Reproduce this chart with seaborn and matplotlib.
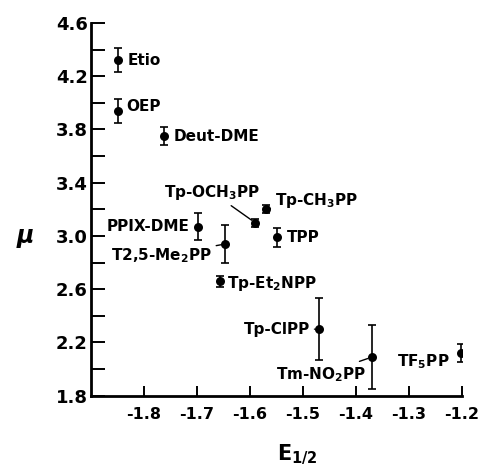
import matplotlib
matplotlib.use("Agg")
import matplotlib.pyplot as plt
import matplotlib.ticker as mticker
import seaborn as sns
import pandas as pd

# ---- data ----
names = ["Etio", "OEP", "Deut-DME", "PPIX-DME", "T2,5-Me$_2$PP", "Tp-Et$_2$NPP",
         "Tp-OCH$_3$PP", "Tp-CH$_3$PP", "TPP", "Tp-ClPP", "Tm-NO$_2$PP", "TF$_5$PP"]
e_half = [-1.848, -1.848, -1.761, -1.698, -1.646, -1.657,
          -1.590, -1.570, -1.549, -1.470, -1.370, -1.202]
mu = [4.32, 3.94, 3.75, 3.07, 2.94, 2.66,
      3.10, 3.20, 2.99, 2.30, 2.09, 2.12]
mu_err = [0.09, 0.09, 0.065, 0.10, 0.14, 0.04,
          0.03, 0.03, 0.07, 0.235, 0.24, 0.065]
x_ticks = [-1.8, -1.7, -1.6, -1.5, -1.4, -1.3, -1.2]
y_ticks = [1.8, 2.2, 2.6, 3.0, 3.4, 3.8, 4.2, 4.6]

# label offsets (points) and alignment
label_dx = [7, 6, 6.5, -6, -10, 5, 3.6, 6.7, 7.4, -6.5, -3.8, -8]
label_dy = [0, 3, 0, 0, -8.4, -1.4, 22, 6.7, 0, 0, -12.5, -6]
label_ha = ["left", "left", "left", "right", "right", "left",
            "right", "left", "left", "right", "right", "right"]
leader = [False, False, False, False, True, False, True, True, False, True, True, False]

df = pd.DataFrame({"name": names, "E": e_half, "mu": mu, "err": mu_err})

sns.set_style("ticks")
plt.rcParams["font.family"] = ["DejaVu Sans"]
plt.rcParams["font.weight"] = "bold"
plt.rcParams["mathtext.default"] = "regular"
plt.rcParams["axes.unicode_minus"] = False
for k in ["text.color", "axes.labelcolor", "xtick.color", "ytick.color",
          "axes.edgecolor", "xtick.labelcolor", "ytick.labelcolor"]:
    plt.rcParams[k] = "black"

fig = plt.figure(figsize=(4.8, 4.73), dpi=100)
ax = fig.add_axes([0.189, 0.1634, 0.7735, 0.788])

ax.errorbar(df["E"], df["mu"], yerr=df["err"], fmt="none", ecolor="black",
            elinewidth=1.2, capsize=2.6, capthick=1.2, zorder=2)
sns.scatterplot(data=df, x="E", y="mu", color="black", s=42, edgecolor="black",
                linewidth=0, ax=ax, zorder=3, legend=False)

for i, row in df.iterrows():
    kw = {}
    if leader[i]:
        kw["arrowprops"] = dict(arrowstyle="-", color="black", lw=1.0,
                                shrinkA=1, shrinkB=3)
    ax.annotate(row["name"], xy=(row["E"], row["mu"]),
                xytext=(label_dx[i], label_dy[i]), textcoords="offset points",
                ha=label_ha[i], va="center", fontsize=11, color="black",
                fontweight="bold", **kw)

ax.set_xlim(-1.9, -1.2)
ax.set_ylim(1.8, 4.6)
ax.set_xticks(x_ticks)
ax.set_xticklabels([f"{v:.1f}" for v in x_ticks], fontweight="bold")
ax.set_yticks(y_ticks)
ax.set_yticklabels([f"{v:.1f}" for v in y_ticks], fontweight="bold")
ax.yaxis.set_minor_locator(mticker.FixedLocator([2.0, 2.4, 2.8, 3.2, 3.6, 4.0, 4.4]))

ax.tick_params(axis="x", which="major", direction="in", length=7.5, width=1.4,
               labelsize=11.5, pad=8, colors="black")
ax.tick_params(axis="y", which="both", direction="in", length=10, width=1.4,
               labelsize=13, pad=2, colors="black")
for s in ["top", "right"]:
    ax.spines[s].set_visible(False)
for s in ["left", "bottom"]:
    ax.spines[s].set_linewidth(2.0)
    ax.spines[s].set_color("black")
ax.set_xlabel("")
ax.set_ylabel("")

fig.text(0.052, 1 - 236 / 473, "μ", fontsize=17, fontstyle="italic",
         fontweight="bold", ha="center", va="center")
fig.text(297 / 480, 1 - 455 / 473, r"E$_{1/2}$", fontsize=15, fontweight="bold",
         ha="center", va="center")

fig.savefig("out.png", dpi=100)
